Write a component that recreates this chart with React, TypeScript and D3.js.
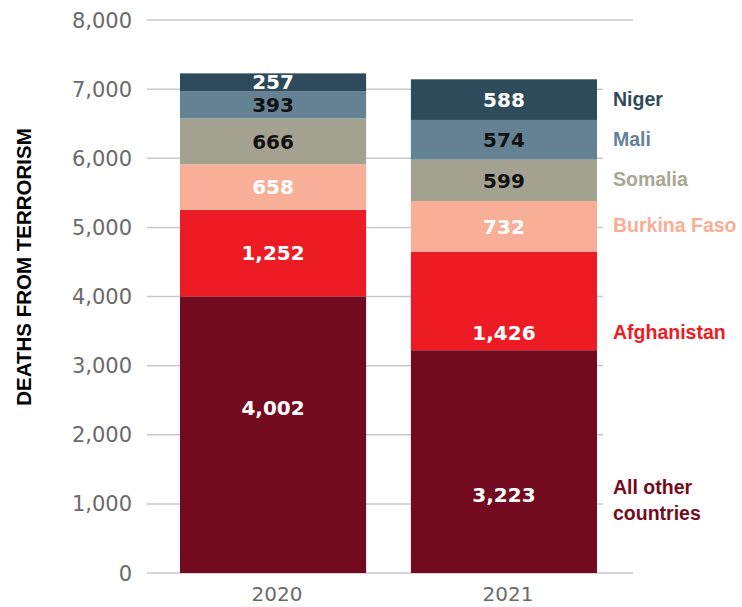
import React from "react";
import * as d3 from "d3";

const years = ["2020", "2021"];
const seriesNames = ["All other countries", "Afghanistan", "Burkina Faso", "Somalia", "Mali", "Niger"];
const values2020 = [4002, 1252, 658, 666, 393, 257];
const values2021 = [3223, 1426, 732, 599, 574, 588];
const yTicks = [0, 1000, 2000, 3000, 4000, 5000, 6000, 7000, 8000];

const seriesColors = ["#730b20", "#ed1c24", "#f7b097", "#a3a18f", "#658294", "#2d4b5a"];
const seriesLabelColors = ["#730b20", "#ed1c24", "#f7ae94", "#a8a694", "#658294", "#2d4b5a"];
const valueTextColors = ["#ffffff", "#ffffff", "#ffffff", "#111111", "#111111", "#ffffff"];
// where the value label sits inside each segment (fraction from bottom)
const labelFrac2020 = [0.596, 0.5, 0.5, 0.5, 0.5, 0.5];
const labelFrac2021 = [0.35, 0.175, 0.5, 0.5, 0.5, 0.5];

const W = 742;
const H = 607;

export default function App() {
  const rows = years.map((yr, i) => {
    const vals = i === 0 ? values2020 : values2021;
    const r: any = { year: yr };
    seriesNames.forEach((s, j) => (r[s] = vals[j]));
    return r;
  });
  const stack = d3.stack().keys(seriesNames)(rows as any);

  const y = d3.scaleLinear().domain([0, 8000]).range([573, 20]);
  const x = d3.scaleBand().domain(years).range([180, 597]).paddingInner(0.194).paddingOuter(0);
  const fmt = d3.format(",");

  const fracs = [labelFrac2020, labelFrac2021];

  return (
    <svg width={W} height={H} style={{ position: "absolute", left: 0, top: 0, background: "#fff" }}>
      {/* gridlines */}
      {yTicks.map((t) => (
        <line
          key={"g" + t}
          x1={147}
          x2={t === 0 || t === 8000 ? 633 : 603}
          y1={y(t)}
          y2={y(t)}
          stroke="#c9c9c9"
          strokeWidth={1.5}
        />
      ))}
      {yTicks.map((t) => (
        <text
          key={"t" + t}
          x={132}
          y={y(t)}
          dy="0.36em"
          textAnchor="end"
          fontFamily="DejaVu Sans"
          fontSize={21}
          fill="#6a6a6a"
        >
          {fmt(t)}
        </text>
      ))}
      {/* bars */}
      {stack.map((layer, j) =>
        layer.map((d: any, i: number) => (
          <rect
            key={"r" + j + "-" + i}
            x={x(years[i])}
            y={y(d[1])}
            width={x.bandwidth()}
            height={y(d[0]) - y(d[1])}
            fill={seriesColors[j]}
          />
        ))
      )}
      {/* value labels */}
      {stack.map((layer, j) =>
        layer.map((d: any, i: number) => {
          const v = d[0] + (d[1] - d[0]) * fracs[i][j];
          return (
            <text
              key={"v" + j + "-" + i}
              x={(x(years[i]) as number) + x.bandwidth() / 2}
              y={y(v)}
              dy="0.36em"
              textAnchor="middle"
              fontFamily="DejaVu Sans"
              fontWeight="bold"
              fontSize={20}
              fill={valueTextColors[j]}
            >
              {fmt(d[1] - d[0])}
            </text>
          );
        })
      )}
      {/* series labels at right */}
      {stack.map((layer, j) => {
        const d: any = layer[1];
        const v = d[0] + (d[1] - d[0]) * fracs[1][j];
        const name = seriesNames[j];
        const lines = name === "All other countries" ? ["All other", "countries"] : [name];
        const lh = 26;
        const yc = y(v) + (lines.length > 1 ? 5 : -1);
        return (
          <text
            key={"s" + j}
            x={613}
            fontFamily="Liberation Sans"
            fontWeight="bold"
            fontSize={19.5}
            fill={seriesLabelColors[j]}
          >
            {lines.map((l, k) => (
              <tspan key={k} x={613} y={yc + (k - (lines.length - 1) / 2) * lh} dy="0.36em">
                {l}
              </tspan>
            ))}
          </text>
        );
      })}
      {/* x labels */}
      {years.map((yr) => (
        <text
          key={"x" + yr}
          x={(x(yr) as number) + x.bandwidth() / 2 + 4}
          y={601}
          textAnchor="middle"
          fontFamily="DejaVu Sans"
          fontSize={20}
          fill="#6a6a6a"
        >
          {yr}
        </text>
      ))}
      {/* axis title */}
      <text
        transform="translate(24,267) rotate(-90)"
        textAnchor="middle"
        dy="0.36em"
        fontFamily="Liberation Sans"
        fontWeight="bold"
        fontSize={20.5}
        fill="#000"
      >
        DEATHS FROM TERRORISM
      </text>
    </svg>
  );
}
